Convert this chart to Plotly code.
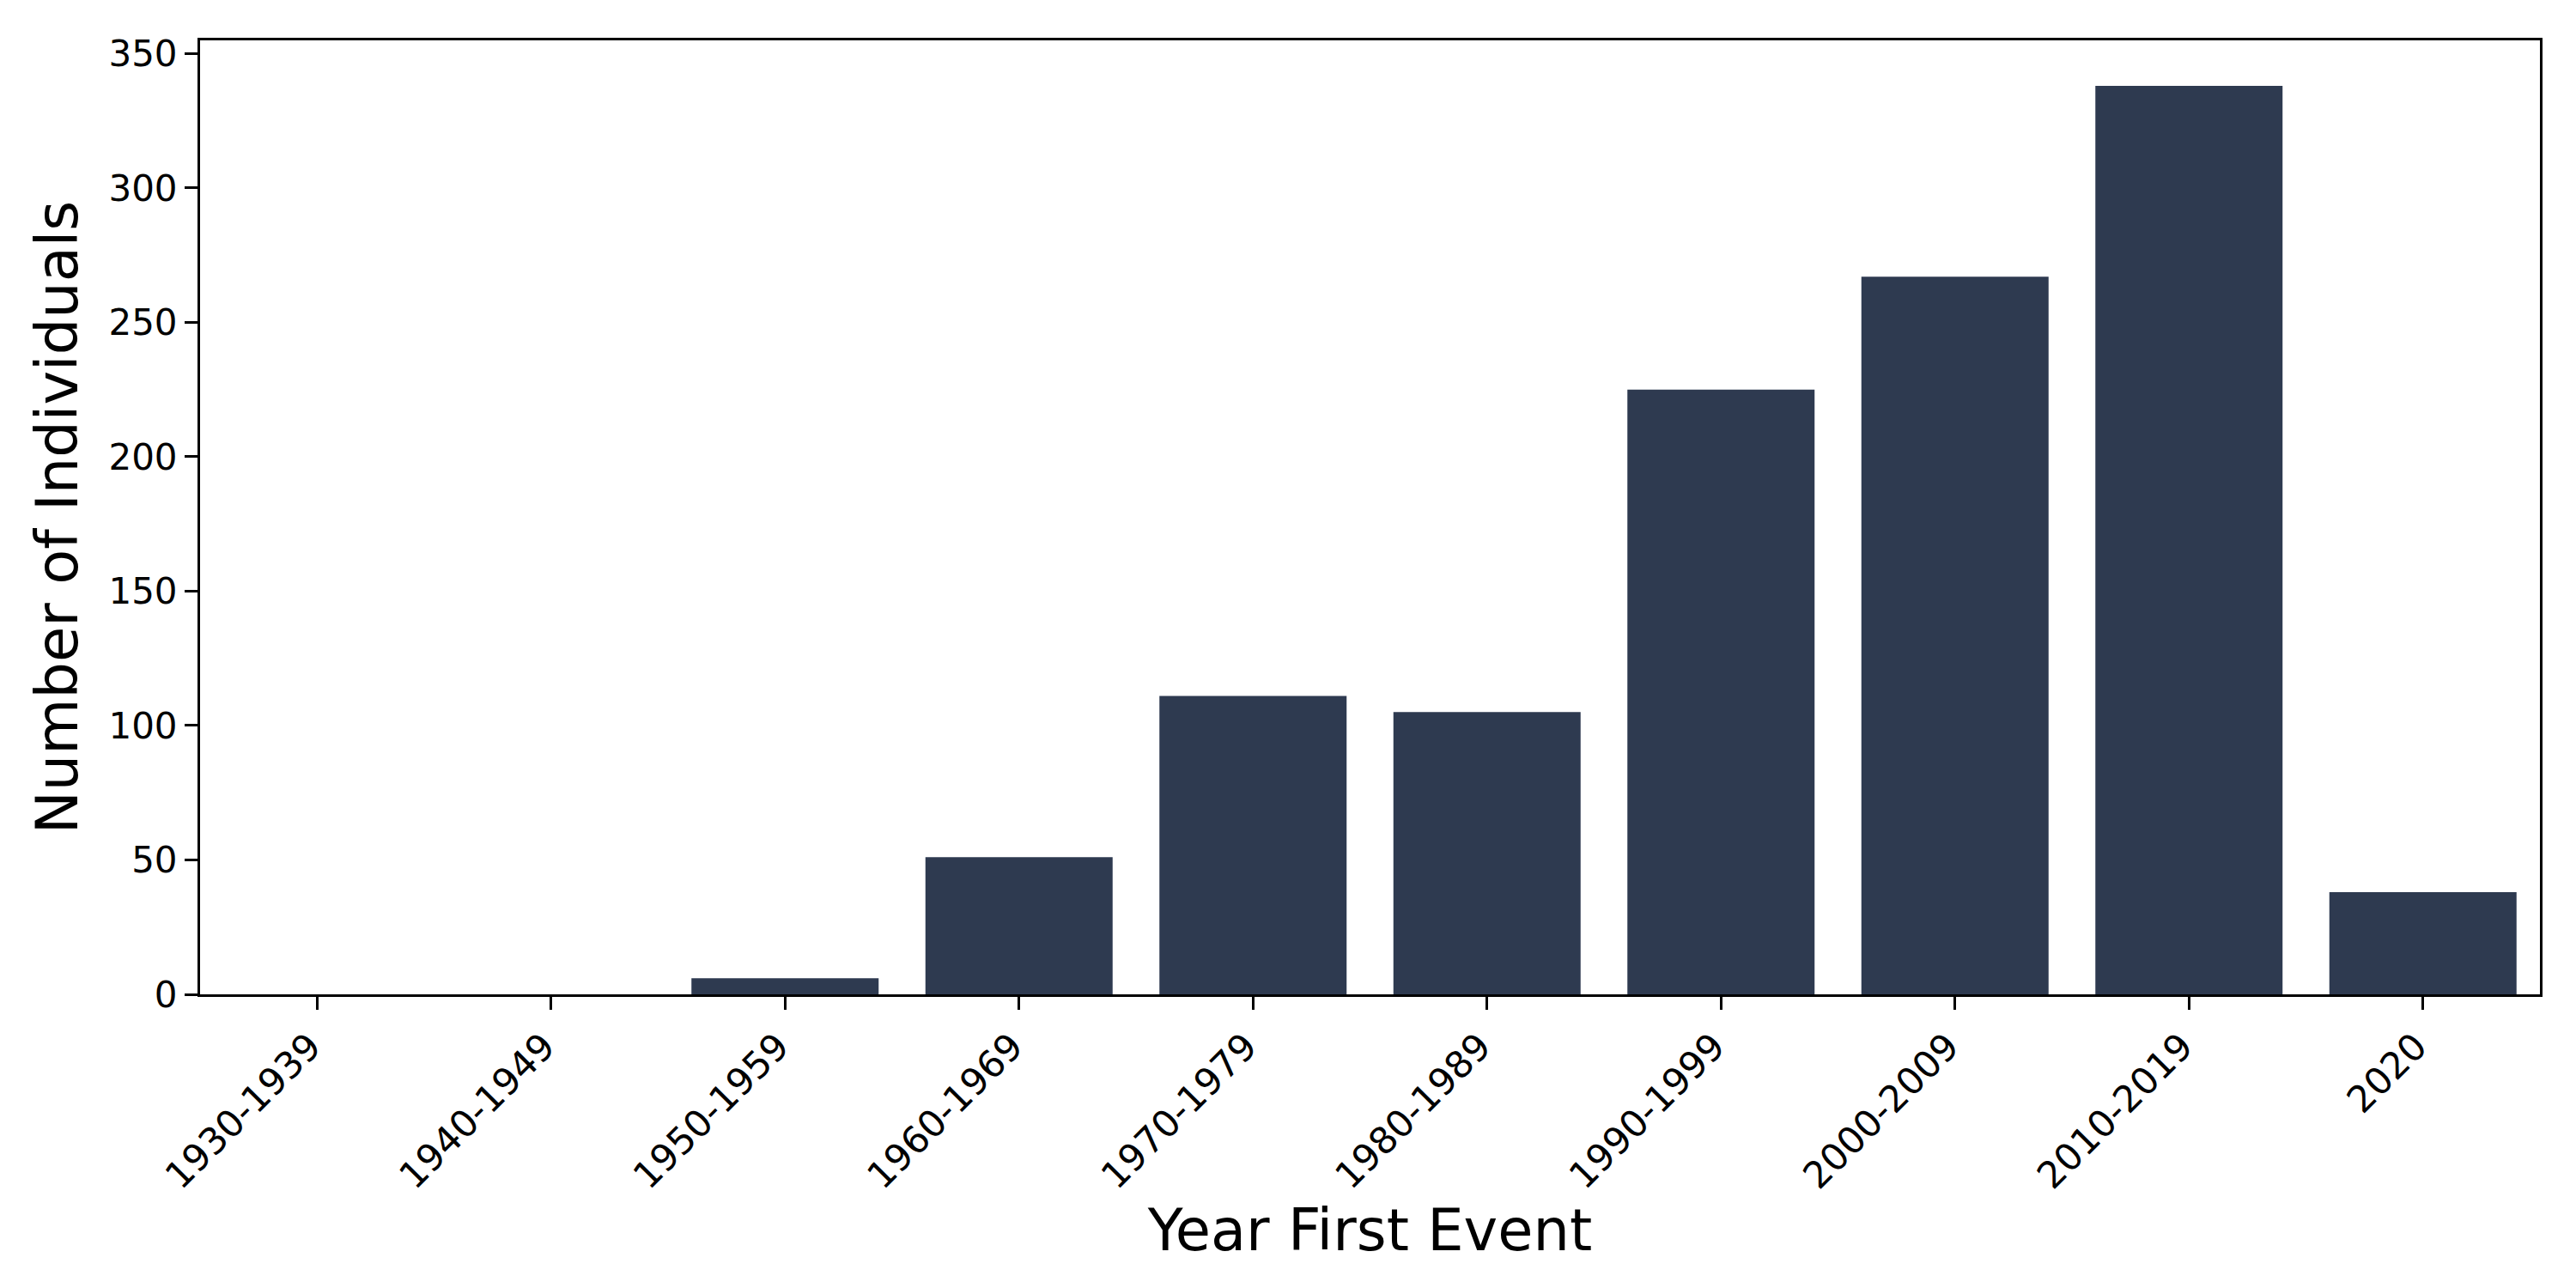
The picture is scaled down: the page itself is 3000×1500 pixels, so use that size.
import plotly.graph_objects as go

# decades of the first recorded event and the number of individuals in each
decades = ["1930-1939", "1940-1949", "1950-1959", "1960-1969", "1970-1979",
           "1980-1989", "1990-1999", "2000-2009", "2010-2019", "2020"]
counts = [0, 0, 6, 51, 111, 105, 225, 267, 338, 38]

y_ticks = [0, 50, 100, 150, 200, 250, 300, 350]

bar_colour = "#2e3a50"
font_family = "DejaVu Sans"

fig = go.Figure()
fig.add_trace(go.Bar(x=decades, y=counts, marker_color=bar_colour,
                     marker_line_width=0))

fig.update_layout(
    width=3000, height=1500,
    margin=dict(l=225, r=50, t=39, b=350),
    plot_bgcolor="white", paper_bgcolor="white",
    bargap=0.2,
    showlegend=False,
    font=dict(family=font_family, color="black", size=42),
)

fig.update_xaxes(
    type="category",
    range=[-0.5, len(decades) - 0.5],
    tickangle=-45,
    ticks="outside", ticklen=15, tickwidth=3, tickcolor="black",
    showline=True, linewidth=3, linecolor="black", mirror=True,
    showgrid=False, zeroline=False,
    tickfont=dict(size=43),
    ticklabelshift=-8,
    title=dict(text="Year First Event", font=dict(size=67), standoff=12),
    automargin=False,
)
fig.update_yaxes(
    range=[0, 354.9],
    tickvals=y_ticks,
    ticks="outside", ticklen=15, tickwidth=3, tickcolor="black",
    showline=True, linewidth=3, linecolor="black", mirror=True,
    showgrid=False, zeroline=False,
    tickfont=dict(size=42),
    title=dict(text="Number of Individuals", font=dict(size=67), standoff=14),
    automargin=False,
)

fig.write_html("out.html")
